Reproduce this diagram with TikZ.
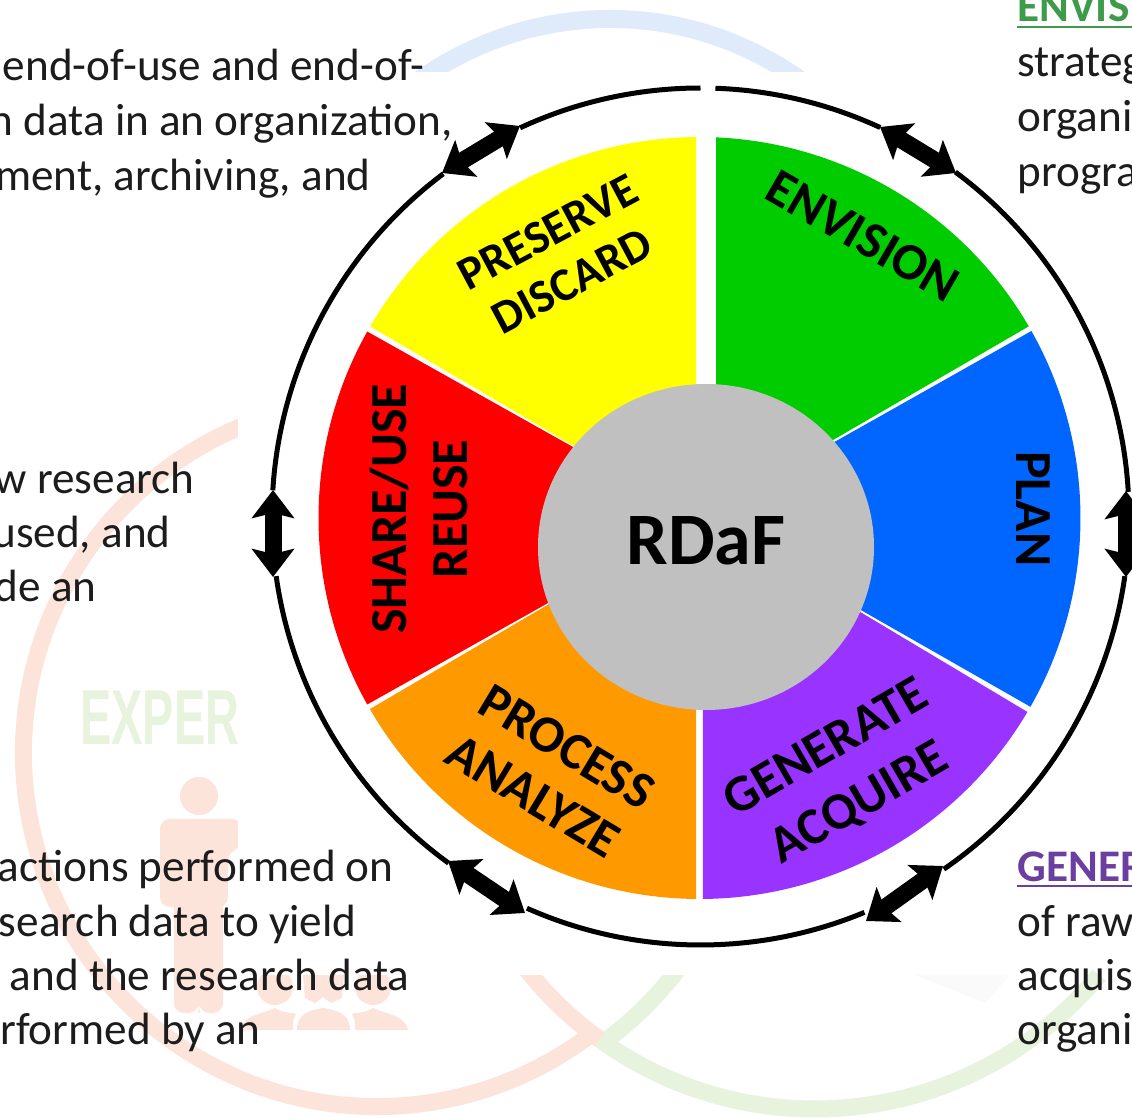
\documentclass[tikz,border=0pt]{standalone}
\usepackage{fontspec}
\setmainfont{Carlito}
\newfontfamily\wmfont{Liberation Sans}
\usetikzlibrary{arrows.meta}
\definecolor{wmblue}{HTML}{DFEBFA}
\definecolor{wmorange}{HTML}{FCE4DA}
\definecolor{wmgreen}{HTML}{E8F3DD}
\definecolor{secgreen}{HTML}{00CC00}
\definecolor{secblue}{HTML}{0066FF}
\definecolor{secpurple}{HTML}{9933FF}
\definecolor{secorange}{HTML}{FF9900}
\definecolor{secred}{HTML}{FF0000}
\definecolor{secyellow}{HTML}{FFFF00}
\definecolor{hubgray}{HTML}{C0C0C0}
\definecolor{bodyink}{HTML}{1C1C1C}
\definecolor{headgreen}{HTML}{3E9B4A}
\definecolor{headpurple}{HTML}{6B3FA0}
\tikzset{
  wedgelabel/.style={font=\fontsize{26}{28}\selectfont\bfseries,inner sep=0pt,text=black},
  wedgesmall/.style={font=\fontsize{23.5}{26}\selectfont\bfseries,inner sep=0pt,text=black},
  bodyleft/.style={font=\fontsize{22.6}{26}\selectfont,text=bodyink,anchor=base east,inner sep=0pt},
  bodyright/.style={font=\fontsize{22.6}{26}\selectfont,text=bodyink,anchor=base west,inner sep=0pt},
  headright/.style={font=\fontsize{22.6}{26}\selectfont\bfseries,anchor=base west,inner sep=0pt},
  wmring/.style={line width=8.5pt},
  cyc/.style={line width=8.5pt,{Stealth[length=14pt,width=21pt,inset=2.5pt]}-{Stealth[length=14pt,width=21pt,inset=2.5pt]}},
  ringline/.style={line width=2.5pt,black}
}
\begin{document}
\begin{tikzpicture}[x=0.5pt,y=0.5pt]
\clip (0,0) rectangle (1132,-1118);
\fill[white] (0,0) rectangle (1132,-1118);
% watermark
\coordinate (B) at (610,-347);
\coordinate (O) at (377,-753);
\coordinate (O2) at (390,-750);
\coordinate (G) at (815,-741);
\draw[wmring,wmblue,line width=9pt] ([shift={(B)}]150:328) arc[start angle=150,end angle=30,radius=328];
\draw[wmring,wmorange] ([shift={(O)}]100:353.5) arc[start angle=100,end angle=307.4,radius=353.5];
\draw[wmring,wmgreen] ([shift={(O2)}]305.4:362) arc[start angle=305.4,end angle=335,radius=362];
\draw[wmring,wmorange] ([shift={(G)}]234.3:368) arc[start angle=234.3,end angle=200,radius=368];
\draw[wmring,wmgreen] ([shift={(G)}]234.3:368) arc[start angle=234.3,end angle=320.5,radius=368];
\node[anchor=base west,inner sep=0pt,text=wmgreen] (exper) at (80,-745)
  {\scalebox{0.6}[1]{\wmfont\bfseries\fontsize{39}{40}\selectfont EXPER}};
\fill[wmorange] (199,-796) circle[radius=19];
\fill[wmorange,rounded corners=5pt] (160,-907) -- (160,-819) -- (242,-819) -- (242,-850) -- (228,-850) -- (228,-907) -- cycle;
\fill[wmorange,rounded corners=5pt] (174,-890) -- (174,-1013) -- (198,-1013) -- (199,-1006) -- (200,-1013) -- (223,-1013) -- (223,-890) -- cycle;
\fill[wmorange] (275,-987) circle[radius=18];
\fill[wmorange] (373,-987) circle[radius=18];
\fill[wmorange] (240,-1030) .. controls (243,-1015) and (262,-1014) .. (275,-1008) .. controls (285,-1014) and (292,-1012) .. (296,-1014) .. controls (292,-1020) and (293,-1026) .. (293,-1030) -- cycle;
\fill[wmorange] (408,-1030) .. controls (405,-1015) and (386,-1014) .. (373,-1008) .. controls (363,-1014) and (356,-1012) .. (352,-1014) .. controls (356,-1020) and (355,-1026) .. (355,-1030) -- cycle;
\fill[wmorange] (297,-1030) .. controls (297,-1012) and (312,-1010) .. (323,-1008) .. controls (334,-1010) and (350,-1012) .. (350,-1030) -- cycle;
\fill[wmorange] (303,-975) -- (305,-998) -- (315,-1003) -- (323,-997) -- (331,-1003) -- (342,-998) -- (344,-975) -- cycle;
\fill[black!2] (915,-975) -- (1010,-975) -- (985,-1003) -- cycle;
% white picture panel
\fill[white] (238,-72) rectangle (1017,-975);
% wedges
\coordinate (S) at (699.5,-518);
\fill[secgreen] ([shift={(S)}]87.5:381) arc[start angle=87.5,end angle=30.2,radius=381] -- (716,-508) -- cycle;
\fill[secblue] ([shift={(S)}]29.4:381) arc[start angle=29.4,end angle=-29.7,radius=381] -- (S) -- cycle;
\fill[secpurple] ([shift={(S)}]-30.6:381) arc[start angle=-30.6,end angle=-89.5,radius=381] -- (703,-518) -- cycle;
\fill[secorange] ([shift={(S)}]269.5:381) arc[start angle=269.5,end angle=210.1,radius=381] -- (696,-518) -- cycle;
\fill[secred] ([shift={(S)}]209.3:381) arc[start angle=209.3,end angle=150.7,radius=381] -- (S) -- cycle;
\fill[secyellow] ([shift={(S)}]149.8:381) arc[start angle=149.8,end angle=90.5,radius=381] -- (696,-518) -- cycle;
% hub
\fill[hubgray] (706,-547) ellipse[x radius=168,y radius=163];
\node[font=\fontsize{37}{40}\selectfont\bfseries,anchor=base,inner sep=0pt,text=black] (hub) at (706,-565) {RDaF};
% labels
\node[wedgelabel,rotate=-30] (envision) at (863,-236) {ENVISION};
\node[wedgelabel,rotate=-90] (plan) at (1033,-509) {PLAN};
\node[wedgelabel,rotate=30] (generate) at (825,-746) {GENERATE};
\node[wedgelabel,rotate=30] (acquire) at (860,-804) {ACQUIRE};
\node[wedgelabel,rotate=-31] (process) at (567,-747) {PROCESS};
\node[wedgelabel,rotate=-31] (analyze) at (533,-796) {ANALYZE};
\node[wedgelabel,rotate=90] (share) at (389,-509) {SHARE/USE};
\node[wedgelabel,rotate=90] (reuse) at (451,-509) {REUSE};
\node[wedgesmall,rotate=28] (preserve) at (548,-232) {PRESERVE};
\node[wedgesmall,rotate=28] (discard) at (572,-281) {DISCARD};
% ring
\coordinate (R) at (700.5,-516.5);
\foreach \a/\b in {88/65.2,53.5/3.3,-8/-55.4,-67.5/-113.9,-126/-172,176.5/126.9,114.9/90}
  \draw[ringline] ([shift={(R)}]\a:428.5) arc[start angle=\a,end angle=\b,radius=428.5];
% cycle arrows
\coordinate (a1) at (880,-127); \coordinate (a2) at (956,-173);
\coordinate (b1) at (1126,-491); \coordinate (b2) at (1126,-577);
\coordinate (c1) at (943,-866); \coordinate (c2) at (866,-921);
\coordinate (d1) at (525,-913); \coordinate (d2) at (448,-861);
\coordinate (e1) at (273,-577); \coordinate (e2) at (273,-490);
\coordinate (f1) at (442,-173); \coordinate (f2) at (520,-126);
\draw[cyc] (a1) -- (a2);
\draw[cyc] (b1) -- (b2);
\draw[cyc] (c1) -- (c2);
\draw[cyc] (d1) -- (d2);
\draw[cyc] (e1) -- (e2);
\draw[cyc] (f1) -- (f2);
% left text
\node[bodyleft] (l1) at (425,-81) {end-of-use and end-of-};
\node[bodyleft] (l2) at (453,-136) {n data in an organization,};
\node[bodyleft] (l3) at (371,-191) {ment, archiving, and};
\node[bodyleft] (l4) at (195,-494) {w research};
\node[bodyleft] (l5) at (171,-548) {used, and};
\node[bodyleft] (l6) at (97,-602) {de an};
\node[bodyleft] (l7) at (394,-881) {actions performed on};
\node[bodyleft] (l8) at (357,-936) {search data to yield};
\node[bodyleft] (l9) at (410,-990) {and the research data};
\node[bodyleft] (l10) at (261,-1044) {rformed by an};
% right text
\node[headright,text=headgreen] (envh) at (1017,-22) {ENVIS};
\node[bodyright] (r1) at (1017,-77) {strateg};
\node[bodyright] (r2) at (1017,-132) {organi};
\node[bodyright] (r3) at (1017,-187) {progra};
\node[headright,text=headpurple] (genh) at (1017,-881) {GENER};
\node[bodyright] (r4) at (1017,-936) {of raw};
\node[bodyright] (r5) at (1017,-990) {acquis};
\node[bodyright] (r6) at (1017,-1044) {organi};
\draw[headgreen,line width=1pt] (1017,-27) -- (1132,-27);
\draw[headpurple,line width=1pt] (1017,-886) -- (1132,-886);
\end{tikzpicture}
\end{document}
